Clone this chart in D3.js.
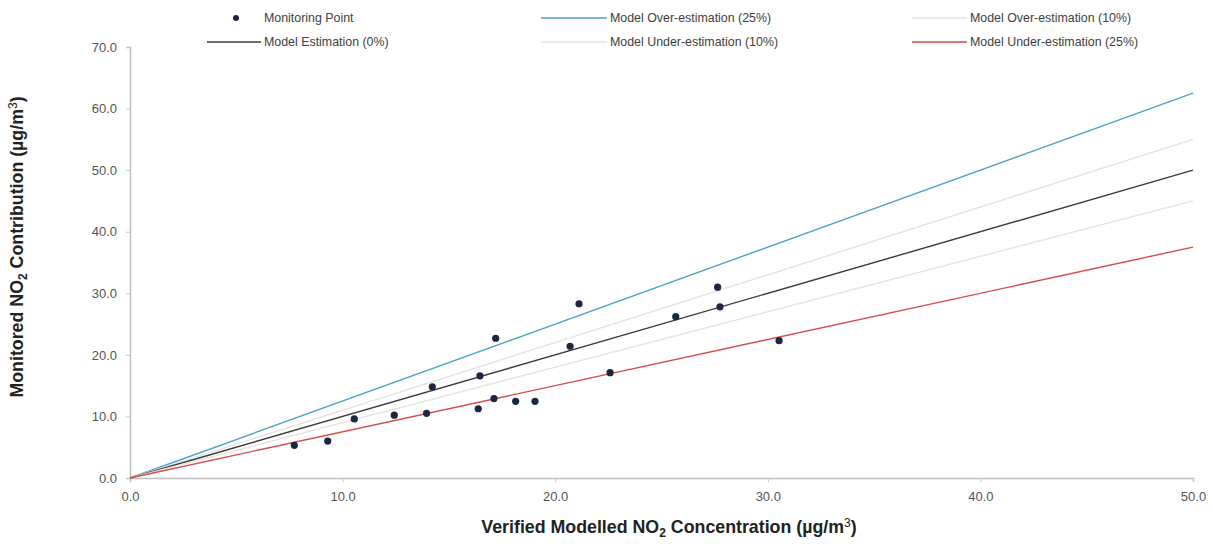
<!DOCTYPE html>
<html><head><meta charset="utf-8">
<script src="https://cdn.jsdelivr.net/npm/d3@7"></script>
<style>
html,body{margin:0;padding:0;background:#fff;}
svg text{font-family:"Liberation Sans",Arial,sans-serif;}
</style></head>
<body>
<svg id="chart" width="1213" height="547"></svg>
<script>
// Data
const modelled = [7.73, 9.30, 10.55, 12.43, 13.95, 14.22, 16.38, 16.46, 17.12, 17.20, 18.14, 19.05, 20.70, 21.12, 22.58, 25.67, 27.64, 27.75, 30.53];
const monitored = [5.3, 6.0, 9.6, 10.2, 10.5, 14.8, 11.25, 16.6, 12.9, 22.7, 12.45, 12.45, 21.4, 28.3, 17.1, 26.2, 31.0, 27.8, 22.3];
const lineNames = ["Model Over-estimation (25%)", "Model Over-estimation (10%)", "Model Estimation (0%)", "Model Under-estimation (10%)", "Model Under-estimation (25%)"];
const lineFactors = [1.25, 1.10, 1.00, 0.90, 0.75];
const lineRange = [0, 50];
const xTicks = [0, 10, 20, 30, 40, 50];
const yTicks = [0, 10, 20, 30, 40, 50, 60, 70];

const lineColors = {"Model Over-estimation (25%)":"#4fa3c7","Model Over-estimation (10%)":"#e4e2e4","Model Estimation (0%)":"#3a3a3a","Model Under-estimation (10%)":"#e6e4de","Model Under-estimation (25%)":"#d64b4b"};

const svg = d3.select("#chart");
const x = d3.scaleLinear().domain([0,50]).range([130,1193]);
const y = d3.scaleLinear().domain([0,70]).range([478,47]);
const fmt = d3.format(".1f");

// Axes
const xAxis = svg.append("g").attr("transform","translate(0,478)")
  .call(d3.axisBottom(x).tickValues(xTicks).tickFormat(fmt).tickSize(4).tickPadding(10));
const yAxis = svg.append("g").attr("transform","translate(130,0)")
  .call(d3.axisLeft(y).tickValues(yTicks).tickFormat(fmt).tickSize(4).tickPadding(9));
[xAxis,yAxis].forEach(a=>{
  a.select(".domain").attr("stroke","#c0c0c0").attr("stroke-width",1.5);
  a.selectAll(".tick line").attr("stroke","#c8c8c8");
  a.selectAll(".tick text").attr("fill","#555").attr("font-size","13px").attr("font-family","Liberation Sans, Arial, sans-serif");
});

// Lines
const lineGen = d3.line().x(d=>x(d[0])).y(d=>y(d[1]));
lineNames.forEach((n,i)=>{
  svg.append("path")
    .datum(lineRange.map(v=>[v, v*lineFactors[i]]))
    .attr("d", lineGen)
    .attr("fill","none")
    .attr("stroke", lineColors[n])
    .attr("stroke-width", 1.4);
});

// Points
svg.append("g").selectAll("circle").data(modelled.map((m,i)=>[m,monitored[i]]))
  .join("circle")
  .attr("cx", d=>x(d[0])).attr("cy", d=>y(d[1])).attr("r",3.6)
  .attr("fill","#1b2740");

// Legend
const leg = svg.append("g").attr("font-size","12.4px").attr("fill","#404040");
const legItems = [
  {name:"Monitoring Point", type:"point", lx:236, tx:264, yy:18},
  {name:"Model Over-estimation (25%)", type:"line", lx:541, tx:610, yy:18},
  {name:"Model Over-estimation (10%)", type:"line", lx:912, tx:970, yy:18},
  {name:"Model Estimation (0%)", type:"line", lx:207, tx:264, yy:42},
  {name:"Model Under-estimation (10%)", type:"line", lx:541, tx:610, yy:42},
  {name:"Model Under-estimation (25%)", type:"line", lx:912, tx:970, yy:42}
];
legItems.forEach(it=>{
  if(it.type==="point"){
    leg.append("circle").attr("cx",it.lx).attr("cy",it.yy).attr("r",3).attr("fill","#1b2740");
  } else {
    leg.append("line").attr("x1",it.lx).attr("x2",it.tx-3).attr("y1",it.yy).attr("y2",it.yy)
      .attr("stroke",lineColors[it.name]).attr("stroke-width",1.5);
  }
  leg.append("text").attr("x",it.tx).attr("y",it.yy).attr("dy","0.35em").attr("fill","#404040").text(it.name);
});

// Axis titles
const xt = svg.append("text").attr("x",669).attr("y",533).attr("text-anchor","middle")
  .attr("font-size","17.8px").attr("font-weight","bold").attr("fill","#222");
xt.append("tspan").text("Verified Modelled NO");
xt.append("tspan").attr("font-size","12px").attr("dy","4").text("2");
xt.append("tspan").attr("dy","-4").text(" Concentration (µg/m");
xt.append("tspan").attr("font-size","12px").attr("font-weight","normal").attr("dy","-6").text("3");
xt.append("tspan").attr("dy","6").text(")");

const yt = svg.append("text").attr("transform","translate(23,247) rotate(-90)").attr("text-anchor","middle")
  .attr("font-size","17.8px").attr("font-weight","bold").attr("fill","#222");
yt.append("tspan").text("Monitored NO");
yt.append("tspan").attr("font-size","12px").attr("dy","4").text("2");
yt.append("tspan").attr("dy","-4").text(" Contribution (µg/m");
yt.append("tspan").attr("font-size","12px").attr("font-weight","normal").attr("dy","-6").text("3");
yt.append("tspan").attr("dy","6").text(")");
</script>
</body></html>
